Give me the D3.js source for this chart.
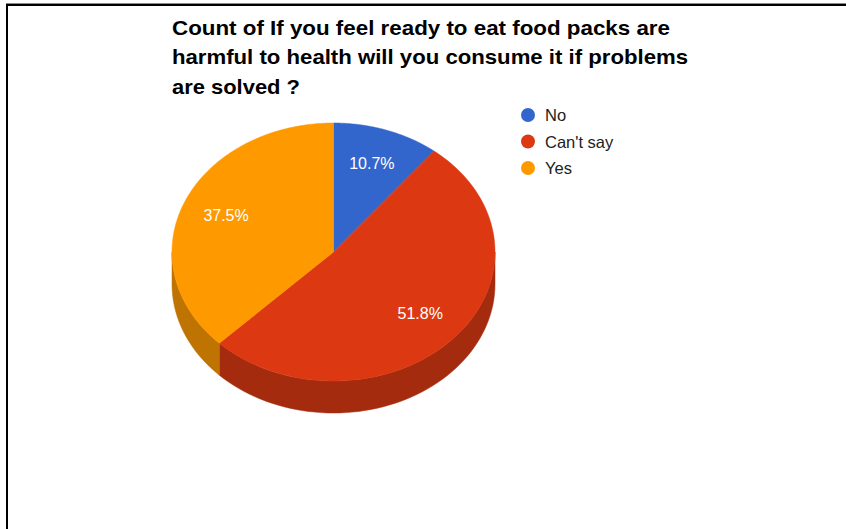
<!DOCTYPE html>
<html><head><meta charset="utf-8">
<script src="https://cdn.jsdelivr.net/npm/d3@7"></script>
<style>html,body{margin:0;padding:0;background:#fff;}svg{display:block;}</style>
</head><body>
<svg id="chart" width="846" height="529"></svg>
<script>
const categories = ["No", "Can't say", "Yes"];
const values = [10.7, 51.8, 37.5];
const labels = ["10.7%", "51.8%", "37.5%"];
const colors = ["#3366cc", "#dc3912", "#ff9900"];
const sideColors = ["#264c99", "#a52b0e", "#bf7300"];
const titleLines = ["Count of If you feel ready to eat food packs are",
  "harmful to health will you consume it if problems",
  "are solved ?"];

const svg = d3.select("#chart");
svg.append("rect").attr("width", 846).attr("height", 529).attr("fill", "#fff");
// frame
svg.append("line").attr("x1", 6).attr("x2", 846).attr("y1", 3.5).attr("y2", 3.5).attr("stroke", "#888").attr("stroke-width", 1);
svg.append("path").attr("d", "M846,5H7V529").attr("fill", "none").attr("stroke", "#000").attr("stroke-width", 2);

// title
const titleW = [498, 516, 128];
const title = svg.append("g");
titleLines.forEach((t, i) => {
  title.append("text").attr("x", 172).attr("y", 34.5 + i * 29.5)
    .attr("font-family", "Liberation Sans, Arial, sans-serif").attr("font-weight", "bold")
    .attr("font-size", 21).attr("fill", "#000")
    .attr("textLength", titleW[i]).attr("lengthAdjust", "spacingAndGlyphs")
    .text(t);
});

// pie geometry
const cx = 333.5, cy = 252, rx = 161.5, ry = 129, depth = 32;
const pie = d3.pie().sort(null).value(d => d).startAngle(0).endAngle(2 * Math.PI);
const arcs = pie(values);
const px = a => cx + rx * Math.sin(a);
const py = (a, off) => cy - ry * Math.cos(a) + off;

function sidePath(a0, a1) {
  const s = Math.max(a0, Math.PI / 2), e = Math.min(a1, 3 * Math.PI / 2);
  if (e <= s) return null;
  const n = 60, pts = [];
  for (let i = 0; i <= n; i++) { const a = s + (e - s) * i / n; pts.push([px(a), py(a, 0)]); }
  for (let i = n; i >= 0; i--) { const a = s + (e - s) * i / n; pts.push([px(a), py(a, depth)]); }
  return d3.line()(pts) + "Z";
}
function topPath(a0, a1) {
  const n = 120, pts = [[cx, cy]];
  for (let i = 0; i <= n; i++) { const a = a0 + (a1 - a0) * i / n; pts.push([px(a), py(a, 0)]); }
  return d3.line()(pts) + "Z";
}

const g = svg.append("g");
arcs.forEach((d, i) => {
  const p = sidePath(d.startAngle, d.endAngle);
  if (p) g.append("path").attr("d", p).attr("fill", sideColors[i]).attr("stroke", sideColors[i]).attr("stroke-width", 0.5);
});
arcs.forEach((d, i) => {
  g.append("path").attr("d", topPath(d.startAngle, d.endAngle)).attr("fill", colors[i]).attr("stroke", colors[i]).attr("stroke-width", 0.5);
});
arcs.forEach((d, i) => {
  const m = (d.startAngle + d.endAngle) / 2, f = 0.72;
  g.append("text").attr("x", cx + rx * f * Math.sin(m)).attr("y", cy - ry * f * Math.cos(m) + 5)
    .attr("text-anchor", "middle").attr("font-family", "Liberation Sans, Arial, sans-serif")
    .attr("font-size", 16).attr("fill", "#fff").text(labels[i]);
});

// legend
const leg = svg.append("g");
categories.forEach((c, i) => {
  const y = 115 + i * 26.5;
  leg.append("circle").attr("cx", 528).attr("cy", y).attr("r", 7).attr("fill", colors[i]);
  leg.append("text").attr("x", 545).attr("y", y + 6).attr("font-family", "Liberation Sans, Arial, sans-serif")
    .attr("font-size", 16.5).attr("fill", "#222").text(c);
});
</script>
</body></html>
